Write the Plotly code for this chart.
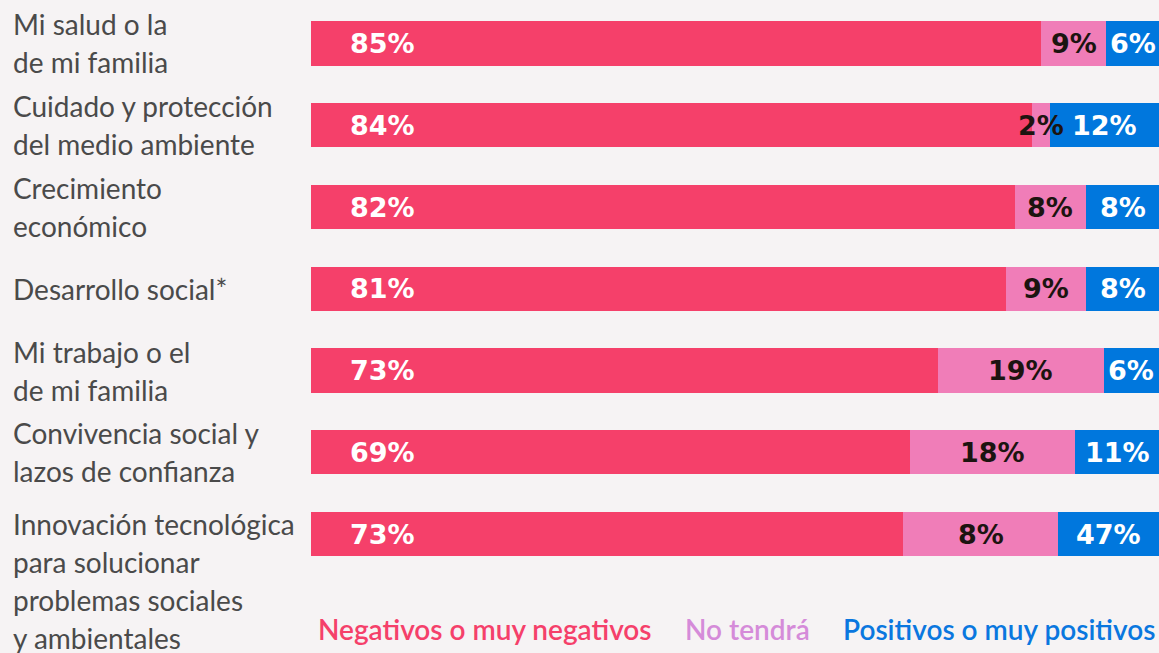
import plotly.graph_objects as go

# ---- data ----
categories = [
    "Mi salud o la<br>de mi familia",
    "Cuidado y protección<br>del medio ambiente",
    "Crecimiento<br>económico",
    "Desarrollo social*",
    "Mi trabajo o el<br>de mi familia",
    "Convivencia social y<br>lazos de confianza",
    "Innovación tecnológica<br>para solucionar<br>problemas sociales<br>y ambientales",
]
series_names = ["Negativos o muy negativos", "No tendrá", "Positivos o muy positivos"]
negativos = [86.1, 85.0, 83.0, 82.0, 73.9, 70.6, 69.8]
no_tendra = [7.7, 2.1, 8.4, 9.4, 19.6, 19.5, 18.3]
positivos = [6.2, 12.9, 8.6, 8.6, 6.5, 9.9, 11.9]
labels_neg = ["85%", "84%", "82%", "81%", "73%", "69%", "73%"]
labels_no = ["9%", "2%", "8%", "9%", "19%", "18%", "8%"]
labels_pos = ["6%", "12%", "8%", "8%", "6%", "11%", "47%"]

# ---- style ----
W, H = 1159, 653
bar_colors = ["#F5406A", "#F07DB8", "#0077DD"]
legend_colors = ["#F5406A", "#D58BD9", "#0A77DF"]
bg = "#F6F3F4"
label_gray = "#4A4A4A"
dark = "#1C1410"
pct_font = "DejaVu Sans"
txt_font = "Lato"

ykeys = [f"c{i}" for i in range(len(categories))]

fig = go.Figure()
for name, vals, col in zip(series_names, [negativos, no_tendra, positivos], bar_colors):
    fig.add_trace(go.Bar(
        y=ykeys, x=vals, orientation="h", name=name,
        marker=dict(color=col, line=dict(width=0)),
        showlegend=False, hoverinfo="skip",
    ))

ann = []
pf = dict(family=pct_font, size=27, weight="bold")
for i, k in enumerate(ykeys):
    ann.append(dict(x=4.4, y=k, xref="x", yref="y", text=labels_neg[i], showarrow=False,
                    xanchor="left", yanchor="middle", font=dict(color="white", **pf)))
    c1 = negativos[i] + no_tendra[i] / 2
    ann.append(dict(x=c1, y=k, xref="x", yref="y", text=labels_no[i], showarrow=False,
                    xanchor="center", yanchor="middle", font=dict(color=dark, **pf)))
    c2 = negativos[i] + no_tendra[i] + positivos[i] / 2
    ann.append(dict(x=c2, y=k, xref="x", yref="y", text=labels_pos[i], showarrow=False,
                    xanchor="center", yanchor="middle", font=dict(color="white", **pf)))
    lines = categories[i].split("<br>")
    n = len(lines)
    first = -19 * (n - 1) if n <= 2 else -10
    for j, ln in enumerate(lines):
        off = first + 38 * j
        ann.append(dict(x=11 / W, y=k, xref="paper", yref="y", text=ln, showarrow=False,
                        xanchor="left", yanchor="middle", yshift=-off,
                        font=dict(family=txt_font, size=28, color=label_gray)))

leg_x = [316, 683, 841]
for name, col, lx in zip(series_names, legend_colors, leg_x):
    ann.append(dict(x=lx / W, y=1 - 629 / H, xref="paper", yref="paper", text=name,
                    showarrow=False, xanchor="left", yanchor="middle",
                    font=dict(family=txt_font, size=28, color=col, weight=600)))

fig.update_layout(
    width=W, height=H, barmode="stack", bargap=0.46,
    margin=dict(l=0, r=0, t=0, b=0),
    paper_bgcolor=bg, plot_bgcolor=bg,
    xaxis=dict(domain=[311 / W, 1], range=[0, 100], visible=False, fixedrange=True),
    yaxis=dict(domain=[1 - 575 / H, 1 - 2.6 / H], autorange="reversed", type="category",
               visible=False, fixedrange=True),
    annotations=ann,
)

post = ("document.body.style.margin='0';document.body.style.padding='0';"
        "document.body.style.overflow='hidden';document.body.style.background='%s';" % bg)
fig.write_html("out.html", config={"displayModeBar": False}, post_script=post)
